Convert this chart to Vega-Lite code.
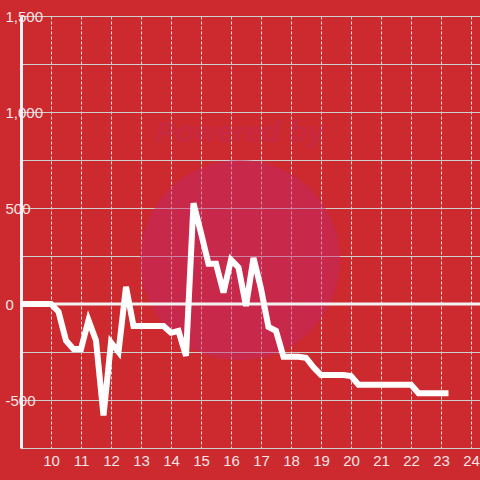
{
  "$schema": "https://vega.github.io/schema/vega-lite/v6.json",
  "width": 459,
  "height": 432,
  "autosize": {"type": "none"},
  "padding": {"left": 21, "top": 16, "right": 0, "bottom": 32},
  "background": "#cc2a2f",
  "config": {
    "view": {"stroke": null},
    "font": "Liberation Sans"
  },
  "datasets": {
    "series": [
      {"t": 9.0, "v": 0}, {"t": 9.25, "v": 0}, {"t": 9.5, "v": 0}, {"t": 9.75, "v": 0},
      {"t": 10.0, "v": 0}, {"t": 10.25, "v": -40}, {"t": 10.5, "v": -190}, {"t": 10.75, "v": -235},
      {"t": 11.0, "v": -235}, {"t": 11.25, "v": -85}, {"t": 11.5, "v": -190}, {"t": 11.75, "v": -580},
      {"t": 12.0, "v": -200}, {"t": 12.25, "v": -250}, {"t": 12.5, "v": 90}, {"t": 12.75, "v": -115},
      {"t": 13.0, "v": -115}, {"t": 13.25, "v": -115}, {"t": 13.5, "v": -115}, {"t": 13.75, "v": -115},
      {"t": 14.0, "v": -150}, {"t": 14.25, "v": -140}, {"t": 14.5, "v": -270}, {"t": 14.75, "v": 525},
      {"t": 15.0, "v": 370}, {"t": 15.25, "v": 210}, {"t": 15.5, "v": 210}, {"t": 15.75, "v": 60},
      {"t": 16.0, "v": 230}, {"t": 16.25, "v": 190}, {"t": 16.5, "v": -10}, {"t": 16.75, "v": 240},
      {"t": 17.0, "v": 80}, {"t": 17.25, "v": -120}, {"t": 17.5, "v": -140}, {"t": 17.75, "v": -275},
      {"t": 18.0, "v": -275}, {"t": 18.25, "v": -275}, {"t": 18.5, "v": -280}, {"t": 18.75, "v": -330},
      {"t": 19.0, "v": -370}, {"t": 19.25, "v": -370}, {"t": 19.5, "v": -370}, {"t": 19.75, "v": -370},
      {"t": 20.0, "v": -375}, {"t": 20.25, "v": -420}, {"t": 20.5, "v": -420}, {"t": 20.75, "v": -420},
      {"t": 21.0, "v": -420}, {"t": 21.25, "v": -420}, {"t": 21.5, "v": -420}, {"t": 21.75, "v": -420},
      {"t": 22.0, "v": -420}, {"t": 22.25, "v": -465}, {"t": 22.5, "v": -465}, {"t": 22.75, "v": -465},
      {"t": 23.0, "v": -465}, {"t": 23.25, "v": -465}
    ],
    "mark": [{"t": 16.3, "v": 229, "label": "Powered by", "ty": 890}]
  },
  "encoding": {
    "x": {
      "field": "t", "type": "quantitative",
      "scale": {"domain": [9, 24.3], "nice": false, "zero": false},
      "axis": {
        "title": null,
        "values": [10, 11, 12, 13, 14, 15, 16, 17, 18, 19, 20, 21, 22, 23, 24],
        "ticks": false, "tickSize": 0,
        "labelPadding": 5,
        "labelFontSize": 15,
        "labelColor": "#f6e4e4",
        "labelFlush": false,
        "labelOverlap": false,
        "labelBound": false,
        "domainColor": "#cfcfcf",
        "domainWidth": 1,
        "grid": true,
        "gridColor": "#e6e6e6",
        "gridDash": [3, 2],
        "gridWidth": 1
      }
    },
    "y": {
      "field": "v", "type": "quantitative",
      "scale": {"domain": [-750, 1500], "nice": false, "zero": false},
      "axis": {
        "title": null,
        "values": [-750, -500, -250, 0, 250, 500, 750, 1000, 1250, 1500],
        "labelExpr": "datum.value % 500 === 0 ? replace(format(datum.value, ','), '\u2212', '-') : ''",
        "ticks": false, "tickSize": 0,
        "labelAlign": "left",
        "labelBaseline": "middle",
        "labelPadding": 16,
        "labelFontSize": 15,
        "labelColor": "#f6e4e4",
        "labelOverlap": false,
        "labelBound": false,
        "labelFlush": false,
        "domainColor": "#f2f2f2",
        "domainWidth": 3,
        "grid": true,
        "gridColor": "#cfcfcf",
        "gridWidth": 1
      }
    }
  },
  "layer": [
    {
      "data": {"name": "mark"},
      "mark": {"type": "point", "shape": "circle", "filled": true, "size": 40000, "color": "#c4266a", "opacity": 0.45, "clip": true},
      "encoding": {}
    },
    {
      "data": {"name": "mark"},
      "mark": {"type": "text", "font": "Liberation Sans", "fontSize": 30, "fontWeight": "bold", "fontStyle": "italic", "color": "#c2286a", "opacity": 0.3, "align": "center", "baseline": "middle"},
      "encoding": {
        "y": {"field": "ty", "type": "quantitative"},
        "text": {"field": "label"}
      }
    },
    {
      "data": {"values": [{"z": 0}]},
      "mark": {"type": "rule", "color": "#f2f2f2", "strokeWidth": 3},
      "encoding": {"y": {"field": "z", "type": "quantitative"}, "x": {"value": 0}, "x2": {"value": 459}}
    },
    {
      "data": {"name": "series"},
      "mark": {"type": "line", "color": "#ffffff", "strokeWidth": 6, "strokeJoin": "miter"},
      "encoding": {}
    }
  ]
}
